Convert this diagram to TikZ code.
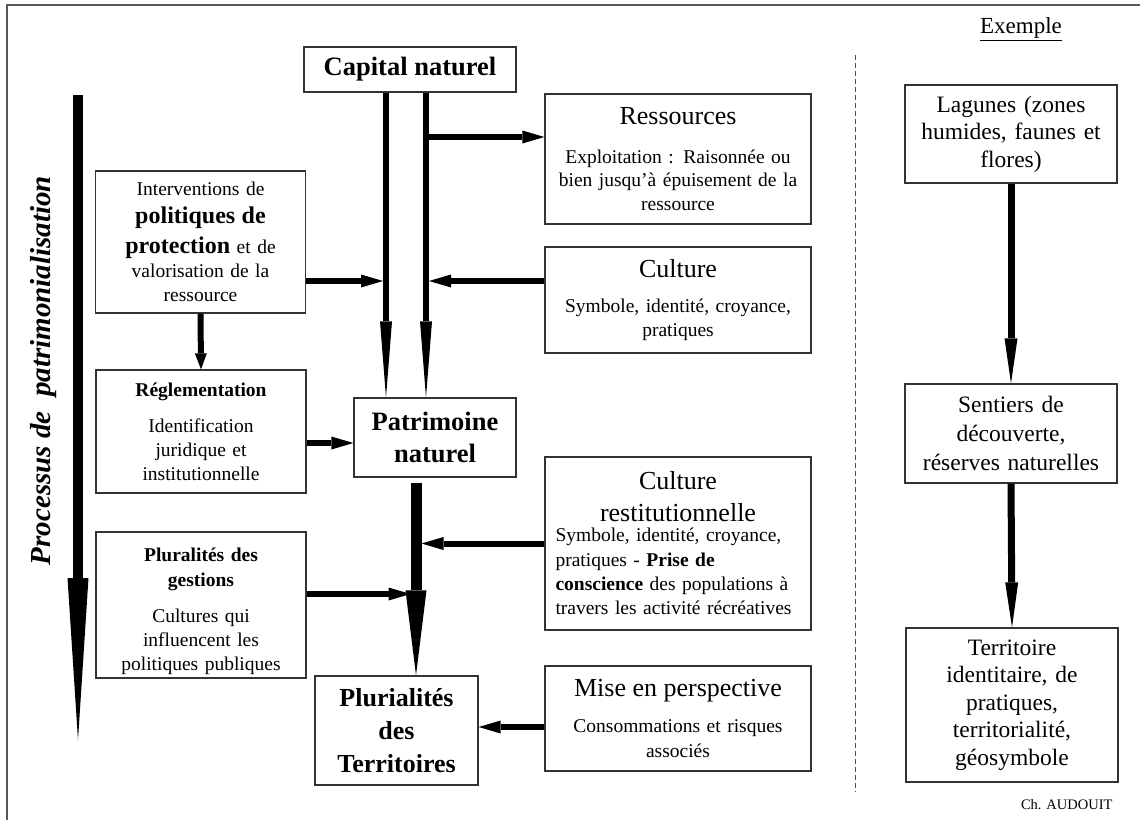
\documentclass[tikz,border=0pt]{standalone}
\usepackage{fontspec}
\setmainfont{Liberation Serif}
\usepackage{tikz}
\usetikzlibrary{arrows.meta}

\newcommand{\headsize}{\fontsize{26}{30}\selectfont}
\newcommand{\bodysize}{\fontsize{19.5}{23.5}\selectfont}

\begin{document}
\begin{tikzpicture}[x=1pt,y=-1pt]
\tikzstyle{box}=[draw=black!80, line width=1.3pt, inner sep=0pt, align=center, font=\bodysize]
\tikzstyle{leftbox}=[box, minimum width=210pt, text width=202pt]
\tikzstyle{rightbox}=[box, minimum width=266pt, text width=258pt]
\tikzstyle{mainbox}=[box, font=\fontsize{26.5}{32}\selectfont\bfseries]
\tikzstyle{exbox}=[box, minimum width=212pt, text width=204pt, font=\fontsize{23.5}{27.5}\selectfont]
\tikzstyle{flow}=[line width=6pt, -{Triangle[length=22pt,width=13pt,line width=0pt]}]
\tikzstyle{vflow}=[line width=5.5pt, -{Triangle[length=76pt,width=12pt,line width=0pt]}]
\tikzstyle{trunk}=[line width=11pt, -{Triangle[length=85pt,width=21pt,line width=0pt]}]
\tikzstyle{exflow}=[line width=7pt, -{Triangle[length=45pt,width=13pt,line width=0pt]}]
\tikzstyle{process}=[line width=10pt, -{Triangle[length=162pt,width=21pt,line width=0pt]}]

\useasboundingbox (0,0) rectangle (1140,819);

% frame and separator
\coordinate (frameBL) at (7,830);
\coordinate (frameTR) at (1150,5);
\draw [black!65, line width=2pt] (frameBL) |- (frameTR);
\coordinate (sepTop) at (855,55);
\coordinate (sepBot) at (855,792);
\draw [black!70, line width=1pt, dash pattern=on 5pt off 3pt] (sepTop) -- (sepBot);

% centre column
\node [mainbox, minimum width=212pt, minimum height=45pt] (capital) at (410,69.5) {Capital naturel};
\node [mainbox, minimum width=162pt, minimum height=79pt] (patri) at (435,437.5) {Patrimoine\\ naturel};
\node [mainbox, minimum width=163pt, minimum height=109pt, font=\fontsize{26}{33}\selectfont\bfseries] (territoires) at (396.5,730.5) {Plurialités\\ des\\ Territoires};

% right column
\node [rightbox, minimum height=130pt] (ressources) at (678,159) {{\headsize Ressources}\\[15pt] Exploitation : Raisonnée ou\\ bien jusqu'à épuisement de la\\ ressource};
\node [rightbox, minimum height=106pt] (culture) at (678,300) {{\headsize Culture}\\[12pt] Symbole, identité, croyance,\\ pratiques};
\node [rightbox, minimum height=173pt] (restit) at (678,543.5) {{\headsize Culture}\\[8pt] {\headsize restitutionnelle}\\[-3pt] \parbox[t]{245pt}{\raggedright\fontsize{19.5}{24.3}\selectfont Symbole, identité, croyance,\\ pratiques - \textbf{Prise de}\\ \textbf{conscience} des populations à\\ travers les activité récréatives}};
\node [rightbox, minimum height=105pt] (mise) at (678,718.5) {{\headsize Mise en perspective}\\[12pt] Consommations et risques\\[1.5pt] associés};

% left column
\node [leftbox, minimum height=142pt] (interventions) at (200.5,242) {Interventions de\\[4.5pt] {\fontsize{24}{24}\selectfont\bfseries politiques de}\\[6.5pt] {\fontsize{24}{24}\selectfont\bfseries protection} et de\\[0.5pt] valorisation de la\\ ressource};
\node [leftbox, minimum height=123pt] (regl) at (201,431.5) {\textbf{Réglementation}\\[13pt] Identification\\[0.5pt] juridique et\\ institutionnelle};
\node [leftbox, minimum height=146pt] (gestions) at (201,605) {\textbf{Pluralités des}\\[1.5pt] \textbf{gestions}\\[12pt] Cultures qui\\[0.5pt] influencent les\\[0.5pt] politiques publiques\\[-31.5pt]\mbox{}};

% example column
\node [font=\fontsize{23}{26}\selectfont] (exemple) at (1021,29) {\underline{Exemple}};
\node [exbox, minimum height=98pt] (lagunes) at (1011,134) {Lagunes (zones\\ humides, faunes et\\ flores)};
\node [exbox, minimum height=99pt, font=\fontsize{23.5}{29}\selectfont] (sentiers) at (1011,433.5) {Sentiers de\\ découverte,\\ réserves naturelles};
\node [exbox, minimum height=154pt] (territoire) at (1012,705) {Territoire\\ identitaire, de\\ pratiques,\\ territorialité,\\ géosymbole};
\node [anchor=east, font=\fontsize{14.5}{16}\selectfont] (author) at (1116,805) {Ch. AUDOUIT};

% process label and arrow
\node [rotate=90, font=\fontsize{29}{32}\selectfont\bfseries\itshape] (proclabel) at (44,370.5) {Processus de~~patrimonialisation};
\coordinate (procTop) at (78,95);
\coordinate (procTip) at (78,740);
\draw [process] (procTop) -- (procTip);

% lanes and rows
\coordinate (laneA) at (386,0);
\coordinate (laneB) at (426,0);
\coordinate (laneC) at (416,0);
\coordinate (rowRes) at (0,137);
\coordinate (rowMid) at (0,281);
\coordinate (rowRegl) at (0,443);
\coordinate (rowGest) at (0,594);
\coordinate (rowMise) at (0,727);

% connectors
\draw [vflow] (capital.south -| laneA) -- (patri.north -| laneA);
\draw [vflow] (capital.south -| laneB) -- (patri.north -| laneB);
\draw [flow] (laneB |- rowRes) -- (ressources.west |- rowRes);
\draw [flow, shorten >=3pt] (interventions.east |- rowMid) -- (laneA |- rowMid);
\draw [flow, shorten >=3pt] (culture.west |- rowMid) -- (laneB |- rowMid);
\draw [flow, -{Triangle[length=16pt,width=12pt,line width=0pt]}] (interventions.south) -- (regl.north);
\draw [flow] (regl.east |- rowRegl) -- (patri.west |- rowRegl);
\draw [trunk, shorten <=5pt] (patri.south -| laneC) -- (territoires.north -| laneC);
\draw [flow, shorten >=5.5pt] (restit.west) -- (laneC |- restit.west);
\draw [flow, shorten >=5.5pt] (gestions.east |- rowGest) -- (laneC |- rowGest);
\draw [flow] (mise.west |- rowMise) -- (territoires.east |- rowMise);
\draw [exflow] (lagunes.south) -- (sentiers.north);
\draw [exflow] (sentiers.south) -- (territoire.north);
\end{tikzpicture}
\end{document}
